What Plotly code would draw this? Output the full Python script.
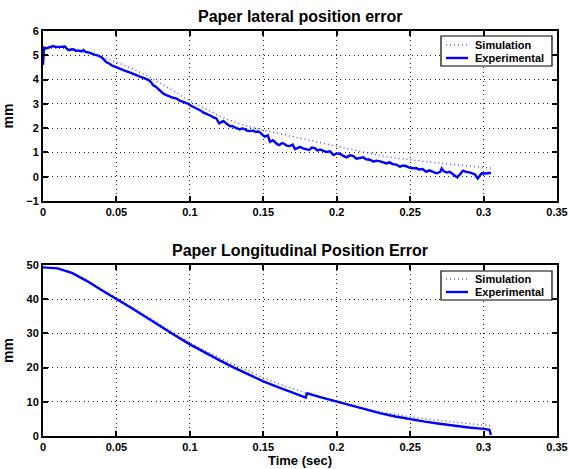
import plotly.graph_objects as go

# ---- Lateral position error (top) ----
lat_exp_t = [0.0, 0.0007, 0.002, 0.004, 0.007, 0.009, 0.011, 0.013, 0.015, 0.0165, 0.018,
             0.0195, 0.021, 0.0225, 0.024, 0.026, 0.0275, 0.029, 0.031, 0.0325, 0.034,
             0.0355, 0.037, 0.0385, 0.04, 0.0415, 0.043, 0.0445, 0.0456, 0.047, 0.0485,
             0.050, 0.052, 0.054, 0.056, 0.059, 0.061, 0.063, 0.066, 0.068, 0.0706,
             0.072, 0.0735, 0.075, 0.077, 0.0797, 0.082, 0.084, 0.0855, 0.0865, 0.0887,
             0.091, 0.093, 0.0955, 0.0975, 0.099, 0.1005, 0.1023, 0.104, 0.106, 0.1075,
             0.109, 0.111, 0.113, 0.1145, 0.116, 0.118, 0.12, 0.1215, 0.1228, 0.124,
             0.125, 0.1273, 0.129, 0.131, 0.1325, 0.134, 0.1355, 0.137, 0.139, 0.141,
             0.143, 0.145, 0.1465, 0.148, 0.1495, 0.151, 0.153, 0.1546, 0.1565, 0.158,
             0.1595, 0.161, 0.1625, 0.164, 0.166, 0.168, 0.17, 0.1716, 0.1735, 0.175,
             0.177, 0.179, 0.1813, 0.183, 0.185, 0.187, 0.1886, 0.191, 0.193, 0.1955,
             0.1977, 0.2, 0.202, 0.2045, 0.2068, 0.209, 0.211, 0.2135, 0.216, 0.218,
             0.22, 0.2225, 0.225, 0.227, 0.229, 0.2315, 0.234, 0.236, 0.238, 0.2405,
             0.243, 0.245, 0.247, 0.2495, 0.252, 0.254, 0.256, 0.2585, 0.261, 0.263,
             0.265, 0.2665, 0.268, 0.2705, 0.2715, 0.273, 0.275, 0.277, 0.279, 0.282,
             0.284, 0.286, 0.288, 0.291, 0.294, 0.296, 0.2987, 0.301, 0.304, 0.305]
lat_exp_v = [4.60, 5.31, 5.28, 5.33, 5.38, 5.34, 5.33, 5.35, 5.36, 5.25, 5.21,
             5.25, 5.24, 5.18, 5.20, 5.16, 5.22, 5.14, 5.12, 5.08, 5.05,
             5.02, 5.00, 4.96, 4.91, 4.82, 4.72, 4.68, 4.62, 4.58, 4.54,
             4.50, 4.46, 4.40, 4.36, 4.30, 4.24, 4.20, 4.12, 4.08, 4.02,
             3.98, 3.90, 3.77, 3.70, 3.53, 3.42, 3.36, 3.32, 3.30, 3.25,
             3.22, 3.13, 3.08, 3.05, 3.00, 2.93, 2.88, 2.84, 2.78, 2.72,
             2.65, 2.60, 2.55, 2.50, 2.44, 2.40, 2.20, 2.26, 2.30, 2.24,
             2.18, 2.09, 2.08, 2.02, 2.00, 1.95, 1.99, 1.97, 1.90, 1.88,
             1.90, 1.84, 1.86, 1.81, 1.72, 1.65, 1.70, 1.44, 1.50, 1.40,
             1.34, 1.30, 1.38, 1.36, 1.28, 1.26, 1.32, 1.13, 1.20, 1.23,
             1.17, 1.14, 1.10, 1.20, 1.18, 1.08, 1.12, 1.06, 1.02, 1.05,
             0.89, 0.96, 0.95, 0.86, 0.80, 0.88, 0.86, 0.74, 0.76, 0.80,
             0.72, 0.70, 0.62, 0.66, 0.64, 0.58, 0.55, 0.60, 0.52, 0.50,
             0.41, 0.46, 0.44, 0.38, 0.35, 0.36, 0.30, 0.32, 0.20, 0.26,
             0.22, 0.18, 0.14, 0.20, 0.34, 0.22, 0.17, 0.20, 0.10, -0.03,
             0.10, 0.25, 0.20, 0.17, 0.10, -0.07, 0.14, 0.13, 0.15, 0.15]

lat_sim_t = [0.0, 0.01, 0.02, 0.03, 0.04, 0.05, 0.06, 0.07, 0.08, 0.09, 0.10, 0.11, 0.12,
             0.13, 0.14, 0.15, 0.16, 0.17, 0.18, 0.19, 0.20, 0.21, 0.22, 0.23, 0.24, 0.25,
             0.26, 0.27, 0.28, 0.29, 0.30, 0.305]
lat_sim_v = [5.30, 5.30, 5.22, 5.10, 4.93, 4.72, 4.47, 4.18, 3.85, 3.49, 3.12, 2.82, 2.50,
             2.26, 2.07, 1.92, 1.79, 1.66, 1.51, 1.38, 1.25, 1.11, 0.98, 0.86, 0.77, 0.69,
             0.62, 0.56, 0.50, 0.44, 0.38, 0.35]

# ---- Longitudinal position error (bottom) ----
lon_exp_t = [0.0, 0.01, 0.02, 0.03, 0.04, 0.05, 0.06, 0.07, 0.08, 0.09, 0.10, 0.11, 0.12,
             0.13, 0.14, 0.15, 0.16, 0.17, 0.179, 0.1795, 0.18, 0.19, 0.20, 0.21, 0.22,
             0.23, 0.24, 0.25, 0.26, 0.27, 0.28, 0.29, 0.30, 0.304, 0.305]
lon_exp_v = [49.3, 49.0, 47.6, 45.3, 42.6, 40.1, 37.5, 34.8, 32.0, 29.4, 26.8, 24.4, 22.2,
             20.0, 17.9, 16.0, 14.3, 12.7, 11.2, 12.3, 12.5, 11.2, 10.0, 8.8, 7.6,
             6.6, 5.7, 4.9, 4.2, 3.6, 3.0, 2.5, 2.1, 1.8, 0.3]

lon_sim_t = [0.0, 0.01, 0.02, 0.03, 0.04, 0.05, 0.06, 0.07, 0.08, 0.09, 0.10, 0.11, 0.12,
             0.13, 0.14, 0.15, 0.16, 0.17, 0.18, 0.19, 0.20, 0.21, 0.22, 0.23, 0.24, 0.25,
             0.26, 0.27, 0.28, 0.29, 0.30, 0.305]
lon_sim_v = [49.3, 49.0, 47.7, 45.5, 42.9, 40.4, 37.9, 35.2, 32.5, 29.9, 27.3, 25.0, 22.9,
             20.9, 19.0, 17.0, 15.3, 13.8, 12.5, 11.3, 10.1, 9.0, 7.9, 7.0, 6.2, 5.6,
             5.0, 4.5, 4.0, 3.6, 3.2, 3.0]

x_ticks = [0, 0.05, 0.1, 0.15, 0.2, 0.25, 0.3, 0.35]
x_tick_text = ["0", "0.05", "0.1", "0.15", "0.2", "0.25", "0.3", "0.35"]
lat_y_ticks = [-1, 0, 1, 2, 3, 4, 5, 6]
lat_y_text = ["\u22121", "0", "1", "2", "3", "4", "5", "6"]
lon_y_ticks = [0, 10, 20, 30, 40, 50]
legend_names = ["Simulation", "Experimental"]

BLUE = "#0000ff"
SIM_COLOR = "rgba(60,60,255,0.85)"
FONT = "Liberation Sans"

# figure fills the window exactly (page body margin removed below)
W, H = 569, 469
# target plot area in window pixels: x 43..557, y 31..436
ML, MR, MT, MB = 43, W - 557, 31, H - 436
PW, PH = W - ML - MR, H - MT - MB


def px(xp):
    """window pixel x -> paper x"""
    return (xp - ML) / PW


def py(yp):
    """window pixel y -> paper y"""
    return 1 - (yp - MT) / PH


fig = go.Figure()
fig.add_trace(go.Scatter(x=lat_sim_t, y=lat_sim_v, mode="lines", name=legend_names[0],
                         line=dict(color=SIM_COLOR, width=1.5, dash="1px,3px"),
                         xaxis="x", yaxis="y", showlegend=False))
fig.add_trace(go.Scatter(x=lat_exp_t, y=lat_exp_v, mode="lines", name=legend_names[1],
                         line=dict(color=BLUE, width=2.4),
                         xaxis="x", yaxis="y", showlegend=False))
fig.add_trace(go.Scatter(x=lon_sim_t, y=lon_sim_v, mode="lines", name=legend_names[0],
                         line=dict(color=SIM_COLOR, width=1.5, dash="1px,3px"),
                         xaxis="x2", yaxis="y2", showlegend=False))
fig.add_trace(go.Scatter(x=lon_exp_t, y=lon_exp_v, mode="lines", name=legend_names[1],
                         line=dict(color=BLUE, width=2.4),
                         xaxis="x2", yaxis="y2", showlegend=False))

axis_common = dict(
    showline=True, linecolor="black", linewidth=2, mirror="ticks",
    ticks="inside", ticklen=5, tickwidth=2, tickcolor="black",
    showgrid=True, gridcolor="#222222", griddash="1px,3.5px", gridwidth=1,
    zeroline=False, automargin=False,
    tickfont=dict(family=FONT, size=11, color="black", weight="bold"),
)

fig.update_layout(
    width=W, height=H,
    margin=dict(l=ML, r=MR, t=MT, b=MB, autoexpand=False),
    paper_bgcolor="white", plot_bgcolor="white",
    font=dict(family=FONT, color="black"),
    showlegend=False,
    xaxis=dict(domain=[0, 1], range=[0, 0.35], anchor="y",
               tickvals=x_ticks, ticktext=x_tick_text, **axis_common),
    yaxis=dict(domain=[py(201), 1], range=[-1, 6], anchor="x",
               tickvals=lat_y_ticks, ticktext=lat_y_text,
               title=dict(text="<b>mm</b>", font=dict(family=FONT, size=14), standoff=10),
               **axis_common),
    xaxis2=dict(domain=[0, 1], range=[0, 0.35], anchor="y2",
                tickvals=x_ticks, ticktext=x_tick_text,
                title=dict(text="<b>Time (sec)</b>", font=dict(family=FONT, size=13), standoff=1),
                **axis_common),
    yaxis2=dict(domain=[0, py(265)], range=[0, 50], anchor="x2",
                tickvals=lon_y_ticks,
                title=dict(text="<b>mm</b>", font=dict(family=FONT, size=14), standoff=10),
                **axis_common),
)

annotations = [
    dict(text="<b>Paper lateral position error</b>", x=0.5, y=py(16), xref="paper",
         yref="paper", showarrow=False, yanchor="middle", font=dict(family=FONT, size=16)),
    dict(text="<b>Paper Longitudinal Position Error</b>", x=0.5, y=py(250), xref="paper",
         yref="paper", showarrow=False, yanchor="middle", font=dict(family=FONT, size=16)),
]
shapes = []

# hand-built legends (box, line samples, labels) for both panels
for box_top, box_bot, rows in [(36, 66, (45, 58)), (271, 300, (279, 292))]:
    shapes.append(dict(type="rect", xref="paper", yref="paper",
                       x0=px(441), x1=px(552), y0=py(box_bot), y1=py(box_top),
                       line=dict(color="black", width=1.2), fillcolor="white", layer="above"))
    for name, ry, style in zip(legend_names, rows,
                               [dict(color=SIM_COLOR, width=1.5, dash="1px,3px"),
                                dict(color=BLUE, width=2.4)]):
        shapes.append(dict(type="line", xref="paper", yref="paper",
                           x0=px(446), x1=px(468), y0=py(ry), y1=py(ry),
                           line=style, layer="above"))
        annotations.append(dict(text=f"<b>{name}</b>", x=px(473), y=py(ry), xref="paper",
                                yref="paper", xanchor="left", yanchor="middle",
                                showarrow=False,
                                font=dict(family=FONT, size=11, color="black")))

fig.update_layout(annotations=annotations, shapes=shapes)

fig.write_html(
    "out.html",
    config={"displayModeBar": False, "staticPlot": True},
    post_script="document.body.style.margin='0px';"
                "document.documentElement.style.overflow='hidden';",
)
